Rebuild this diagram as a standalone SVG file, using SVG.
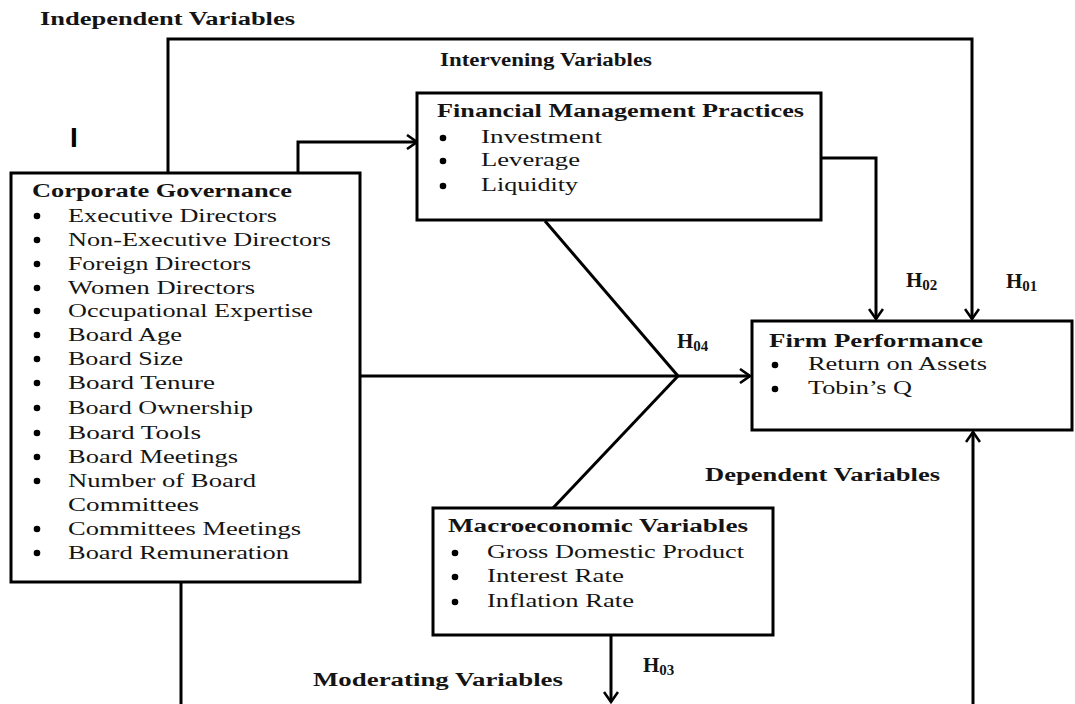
<svg xmlns="http://www.w3.org/2000/svg" width="1075" height="704" viewBox="0 0 1075 704">
<style>
.box{fill:#fff;stroke:#000;stroke-width:3}
.ln{fill:none;stroke:#000;stroke-width:3}
.t{font-family:"Liberation Serif","Times New Roman",serif;font-size:18.5px;fill:#141414}
.b{font-family:"Liberation Serif","Times New Roman",serif;font-size:18.5px;font-weight:bold;fill:#141414}
.h{font-family:"Liberation Serif","Times New Roman",serif;font-size:21px;font-weight:bold;fill:#141414}
.sub{font-size:15px}
.dot{fill:#000}
</style>
<defs>
<marker id="arr" markerWidth="14" markerHeight="16" refX="12" refY="8" orient="auto" markerUnits="userSpaceOnUse">
<path d="M2,1 L12,8 L2,15" fill="none" stroke="#000" stroke-width="2.6"/>
</marker>
</defs>
<rect width="1075" height="704" fill="#fff"/>

<g id="labels">
<text class="b" x="40" y="25" textLength="255" lengthAdjust="spacingAndGlyphs">Independent Variables</text>
<text class="b" x="440" y="66" textLength="212" lengthAdjust="spacingAndGlyphs">Intervening Variables</text>
<text class="b" x="705" y="481" textLength="235" lengthAdjust="spacingAndGlyphs">Dependent Variables</text>
<text class="b" x="313" y="686" textLength="250" lengthAdjust="spacingAndGlyphs">Moderating Variables</text>
<text x="70" y="147" style="font-family:'Liberation Sans',Arial,sans-serif;font-size:28px;font-weight:bold" fill="#000">I</text>
<text class="h" x="906" y="287">H<tspan class="sub" dy="3">02</tspan></text>
<text class="h" x="1006" y="288">H<tspan class="sub" dy="3">01</tspan></text>
<text class="h" x="677" y="348">H<tspan class="sub" dy="3">04</tspan></text>
<text class="h" x="643" y="672">H<tspan class="sub" dy="3">03</tspan></text>
</g>

<g id="connectors">
<polyline class="ln" points="168,173 168,39 972,39 972,319" marker-end="url(#arr)"/>
<polyline class="ln" points="298,173 298,142 417,142" marker-end="url(#arr)"/>
<polyline class="ln" points="821,158 876,158 876,319" marker-end="url(#arr)"/>
<line class="ln" x1="360" y1="376" x2="678" y2="376"/>
<line class="ln" x1="678" y1="376" x2="750" y2="376" marker-end="url(#arr)"/>
<line class="ln" x1="545" y1="221" x2="678" y2="376"/>
<line class="ln" x1="678" y1="376" x2="553" y2="508"/>
<line class="ln" x1="973" y1="704" x2="973" y2="432" marker-end="url(#arr)"/>
<line class="ln" x1="611" y1="635" x2="611" y2="702" marker-end="url(#arr)"/>
<line class="ln" x1="181" y1="583" x2="181" y2="704"/>
</g>

<g id="corporate-governance">
<rect class="box" x="11" y="173" width="349" height="409"/>
<text class="b" x="32" y="197" textLength="260" lengthAdjust="spacingAndGlyphs">Corporate Governance</text>
<g class="dot">
<circle cx="37" cy="216" r="3.3"/><circle cx="37" cy="240" r="3.3"/><circle cx="37" cy="264" r="3.3"/><circle cx="37" cy="288" r="3.3"/>
<circle cx="37" cy="311" r="3.3"/><circle cx="37" cy="335" r="3.3"/><circle cx="37" cy="359" r="3.3"/><circle cx="37" cy="383" r="3.3"/>
<circle cx="37" cy="408" r="3.3"/><circle cx="37" cy="433" r="3.3"/><circle cx="37" cy="457" r="3.3"/><circle cx="37" cy="481" r="3.3"/>
<circle cx="37" cy="529" r="3.3"/><circle cx="37" cy="553" r="3.3"/>
</g>
<text class="t" x="68" y="222" textLength="209" lengthAdjust="spacingAndGlyphs">Executive Directors</text>
<text class="t" x="68" y="246" textLength="263" lengthAdjust="spacingAndGlyphs">Non-Executive Directors</text>
<text class="t" x="68" y="270" textLength="183" lengthAdjust="spacingAndGlyphs">Foreign Directors</text>
<text class="t" x="68" y="294" textLength="187" lengthAdjust="spacingAndGlyphs">Women Directors</text>
<text class="t" x="68" y="317" textLength="245" lengthAdjust="spacingAndGlyphs">Occupational Expertise</text>
<text class="t" x="68" y="341" textLength="114" lengthAdjust="spacingAndGlyphs">Board Age</text>
<text class="t" x="68" y="365" textLength="115" lengthAdjust="spacingAndGlyphs">Board Size</text>
<text class="t" x="68" y="389" textLength="147" lengthAdjust="spacingAndGlyphs">Board Tenure</text>
<text class="t" x="68" y="414" textLength="185" lengthAdjust="spacingAndGlyphs">Board Ownership</text>
<text class="t" x="68" y="439" textLength="133" lengthAdjust="spacingAndGlyphs">Board Tools</text>
<text class="t" x="68" y="463" textLength="170" lengthAdjust="spacingAndGlyphs">Board Meetings</text>
<text class="t" x="68" y="487" textLength="188" lengthAdjust="spacingAndGlyphs">Number of Board</text>
<text class="t" x="68" y="511" textLength="131" lengthAdjust="spacingAndGlyphs">Committees</text>
<text class="t" x="68" y="535" textLength="233" lengthAdjust="spacingAndGlyphs">Committees Meetings</text>
<text class="t" x="68" y="559" textLength="221" lengthAdjust="spacingAndGlyphs">Board Remuneration</text>
</g>

<g id="financial-management-practices">
<rect class="box" x="417" y="93" width="404" height="127"/>
<text class="b" x="437" y="117" textLength="367" lengthAdjust="spacingAndGlyphs">Financial Management Practices</text>
<circle class="dot" cx="443" cy="138" r="3.3"/><circle class="dot" cx="443" cy="161" r="3.3"/><circle class="dot" cx="443" cy="186" r="3.3"/>
<text class="t" x="481" y="143" textLength="121" lengthAdjust="spacingAndGlyphs">Investment</text>
<text class="t" x="481" y="166" textLength="99" lengthAdjust="spacingAndGlyphs">Leverage</text>
<text class="t" x="481" y="191" textLength="97" lengthAdjust="spacingAndGlyphs">Liquidity</text>
</g>

<g id="firm-performance">
<rect class="box" x="752" y="321" width="320" height="109"/>
<text class="b" x="769" y="347" textLength="214" lengthAdjust="spacingAndGlyphs">Firm Performance</text>
<circle class="dot" cx="775" cy="365" r="3.3"/><circle class="dot" cx="775" cy="389" r="3.3"/>
<text class="t" x="808" y="370" textLength="179" lengthAdjust="spacingAndGlyphs">Return on Assets</text>
<text class="t" x="808" y="394" textLength="104" lengthAdjust="spacingAndGlyphs">Tobin’s Q</text>
</g>

<g id="macroeconomic-variables">
<rect class="box" x="433" y="508" width="340" height="127"/>
<text class="b" x="448" y="532" textLength="300" lengthAdjust="spacingAndGlyphs">Macroeconomic Variables</text>
<circle class="dot" cx="455" cy="553" r="3.3"/><circle class="dot" cx="455" cy="577" r="3.3"/><circle class="dot" cx="455" cy="602" r="3.3"/>
<text class="t" x="487" y="558" textLength="257" lengthAdjust="spacingAndGlyphs">Gross Domestic Product</text>
<text class="t" x="487" y="582" textLength="137" lengthAdjust="spacingAndGlyphs">Interest Rate</text>
<text class="t" x="487" y="607" textLength="147" lengthAdjust="spacingAndGlyphs">Inflation Rate</text>
</g>
</svg>
